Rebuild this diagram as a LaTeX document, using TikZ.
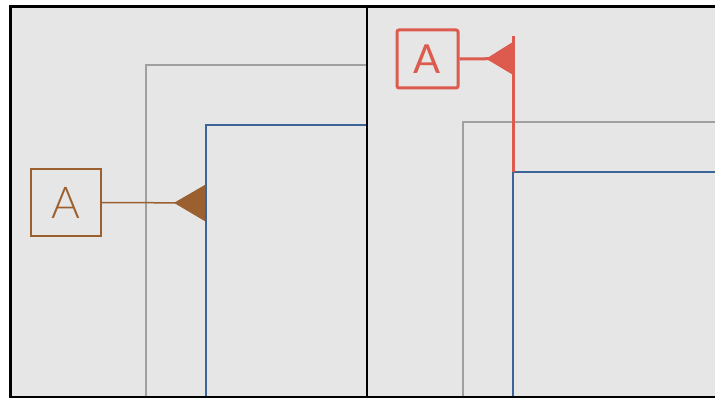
\documentclass[tikz,border=0pt]{standalone}
\usepackage{fontspec}
\usetikzlibrary{arrows.meta}
\newfontfamily\thinfont{Lato Light}
\newfontfamily\regfont{Lato}
\definecolor{bgc}{HTML}{E6E6E6}
\definecolor{grayl}{HTML}{A0A0A0}
\definecolor{bluel}{HTML}{3C6499}
\definecolor{brownc}{HTML}{9A6030}
\definecolor{redc}{HTML}{DD5A4E}
\tikzset{
  frameline/.style={draw=black, line width=2.8pt},
  grayrect/.style={draw=grayl, line width=1.3pt},
  bluerect/.style={draw=bluel, line width=2.2pt},
  brownlabel/.style={draw=brownc, line width=1.5pt, minimum width=70pt, minimum height=67pt, inner sep=0pt, text=brownc, font=\thinfont\fontsize{44}{44}\selectfont},
  redlabel/.style={draw=redc, line width=3pt, rounded corners=2pt, minimum width=61pt, minimum height=58pt, inner sep=0pt, text=redc, font=\regfont\fontsize{40}{40}\selectfont},
  brownconn/.style={draw=brownc, line width=1.5pt, -{Triangle[reversed,length=31pt,width=36pt]}},
  redconn/.style={draw=redc, line width=3pt, -{Triangle[reversed,length=26pt,width=31pt]}},
}
\begin{document}
\begin{tikzpicture}[x=1pt,y=-1pt]
\useasboundingbox (0,0) rectangle (715,398);
\fill[bgc] (10.8,6.5) rectangle (715,397);
% left panel
\draw[grayrect] (146,398) -- (146,65) -- (367,65);
\draw[bluerect] (206,398) -- (206,125) -- (367,125);
\node[brownlabel] (la) at (66,202.5) {A};
\coordinate (tipl) at (205,203);
\draw[brownconn] (la.east) -- (tipl);
% right panel
\draw[grayrect] (463,398) -- (463,122) -- (715,122);
\draw[bluerect] (513,398) -- (513,172) -- (715,172);
\coordinate (flagtop) at (513,36);
\coordinate (flagbot) at (513,172);
\draw[draw=redc, line width=3pt] (flagtop) -- (flagbot);
\node[redlabel] (ra) at (427.5,59) {A};
\coordinate (tipr) at (512,58.5);
\draw[redconn] (ra.east) -- (tipr);
% frame
\draw[frameline] (715,6.5) -- (10.8,6.5) -- (10.8,397) -- (715,397);
\draw[frameline] (367,6.5) -- (367,397);
\end{tikzpicture}
\end{document}
